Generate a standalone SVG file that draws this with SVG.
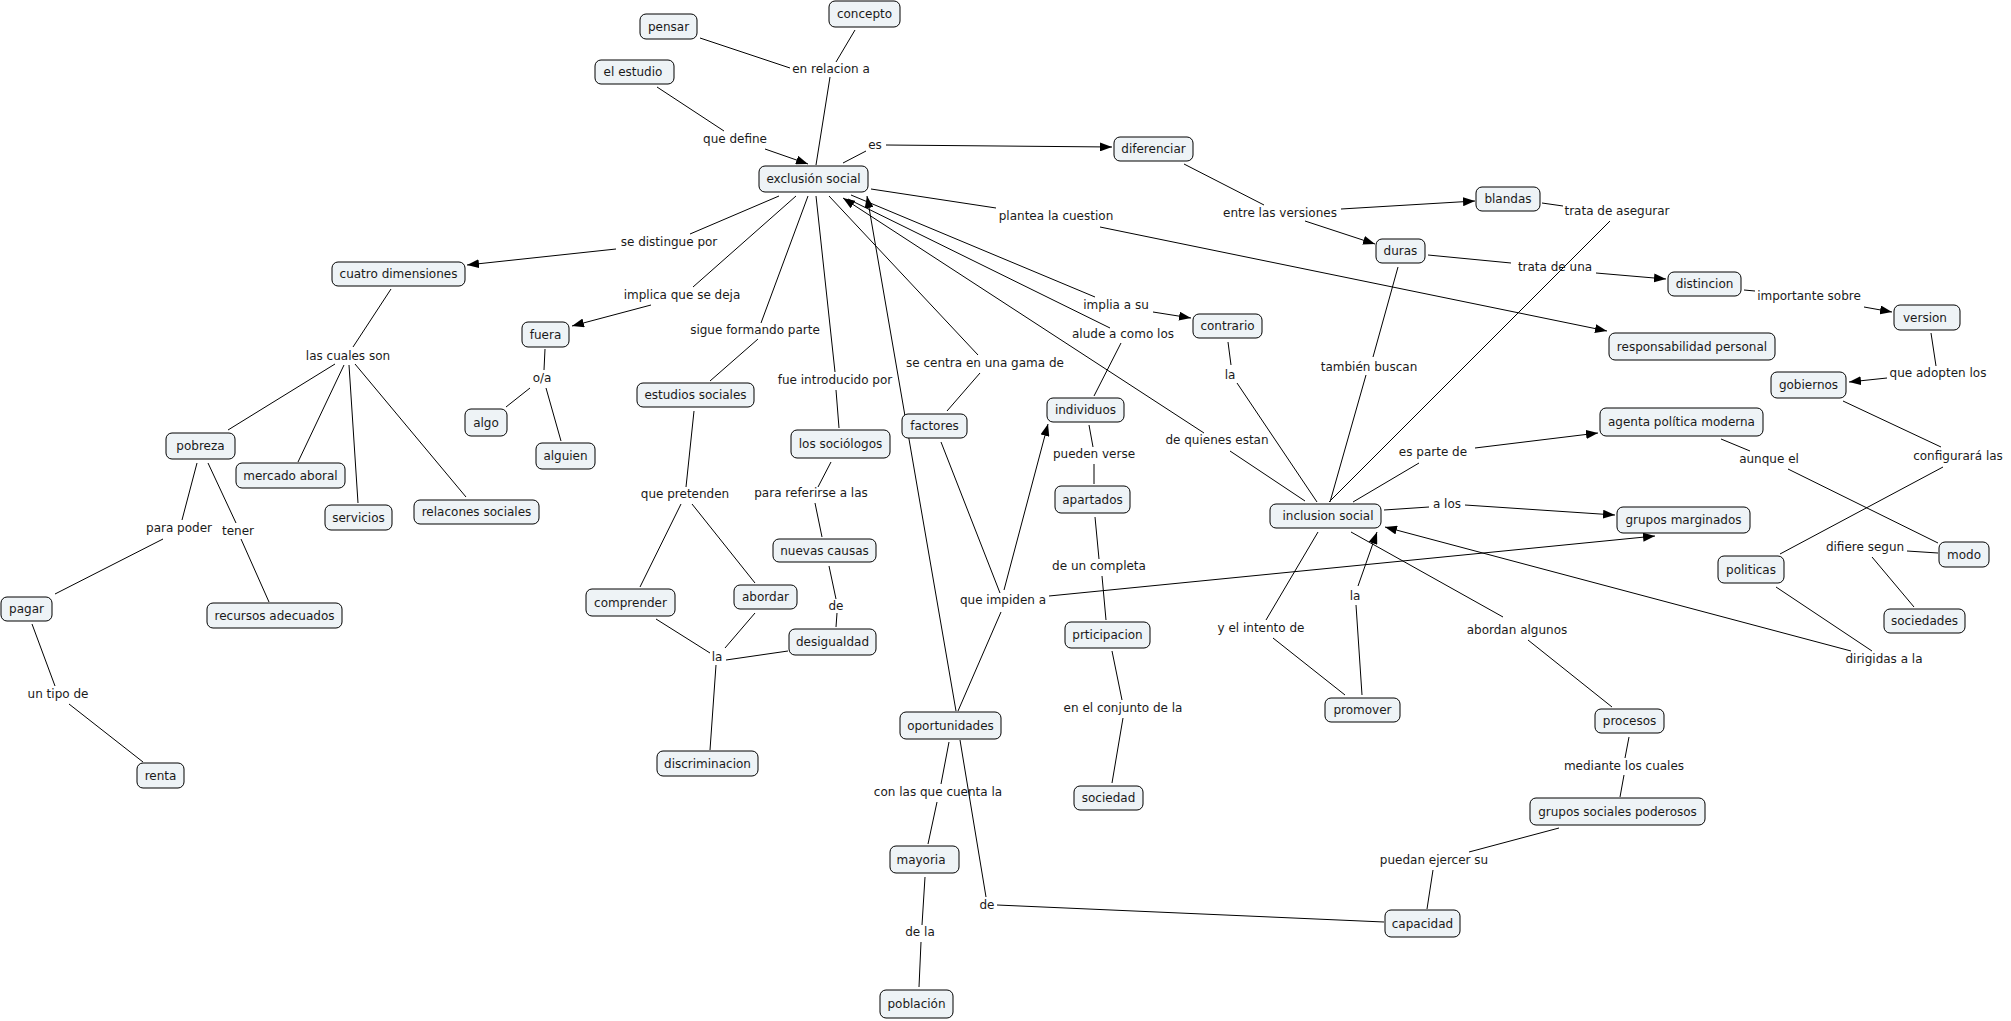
<svg xmlns="http://www.w3.org/2000/svg" width="2011" height="1021" viewBox="0 0 2011 1021">
<style>
.n rect{fill:#eef3f6;stroke:#000;stroke-width:1;}
text{font-family:"DejaVu Sans",Verdana,sans-serif;font-size:12px;fill:#1a1a1a;text-anchor:middle;}
.c line{stroke:#000;stroke-width:1;fill:none;}
.c line.a{marker-end:url(#arr);}
</style>
<defs>
<marker id="arr" markerUnits="userSpaceOnUse" markerWidth="12" markerHeight="9" refX="12" refY="4.5" orient="auto"><path d="M0,0 L12,4.5 L0,9 z" fill="#000"/></marker>
</defs>
<rect width="2011" height="1021" fill="#fff"/>
<g class="c" id="connectors">
<line x1="700" y1="38" x2="790" y2="68"/>
<line x1="855" y1="30" x2="836" y2="62"/>
<line x1="830" y1="77" x2="816" y2="165"/>
<line x1="657" y1="87" x2="724" y2="131"/>
<line class="a" x1="765" y1="149" x2="808" y2="164"/>
<line x1="843" y1="163" x2="866" y2="151"/>
<line class="a" x1="886" y1="145" x2="1112" y2="147"/>
<line x1="1184" y1="164" x2="1264" y2="205"/>
<line class="a" x1="1341" y1="209" x2="1475" y2="201"/>
<line class="a" x1="1305" y1="221" x2="1375" y2="244"/>
<line x1="1542" y1="203" x2="1563" y2="206"/>
<line x1="1610" y1="221" x2="1329" y2="502"/>
<line x1="1428" y1="255" x2="1511" y2="263"/>
<line class="a" x1="1596" y1="273" x2="1666" y2="279"/>
<line x1="1744" y1="290" x2="1755" y2="291"/>
<line class="a" x1="1864" y1="307" x2="1892" y2="312"/>
<line x1="1931" y1="333" x2="1936" y2="366"/>
<line class="a" x1="1887" y1="378" x2="1849" y2="382"/>
<line x1="1843" y1="401" x2="1941" y2="447"/>
<line x1="1943" y1="467" x2="1780" y2="554"/>
<line x1="1721" y1="439" x2="1750" y2="451"/>
<line x1="1788" y1="469" x2="1938" y2="543"/>
<line x1="1938" y1="553" x2="1907" y2="551"/>
<line x1="1872" y1="557" x2="1914" y2="607"/>
<line x1="1776" y1="587" x2="1872" y2="651"/>
<line class="a" x1="1851" y1="651" x2="1385" y2="527"/>
<line x1="871" y1="189" x2="996" y2="208"/>
<line class="a" x1="1100" y1="227" x2="1607" y2="331"/>
<line x1="779" y1="196" x2="690" y2="234"/>
<line class="a" x1="616" y1="249" x2="467" y2="265"/>
<line x1="796" y1="196" x2="693" y2="287"/>
<line class="a" x1="651" y1="305" x2="572" y2="326"/>
<line x1="808" y1="196" x2="761" y2="323"/>
<line x1="758" y1="339" x2="710" y2="381"/>
<line x1="816" y1="196" x2="835" y2="372"/>
<line x1="836" y1="390" x2="839" y2="428"/>
<line x1="831" y1="462" x2="818" y2="487"/>
<line x1="815" y1="503" x2="822" y2="537"/>
<line x1="829" y1="566" x2="836" y2="599"/>
<line x1="837" y1="613" x2="836" y2="627"/>
<line x1="788" y1="651" x2="726" y2="660"/>
<line x1="694" y1="411" x2="686" y2="487"/>
<line x1="681" y1="504" x2="640" y2="587"/>
<line x1="692" y1="504" x2="755" y2="583"/>
<line x1="656" y1="619" x2="710" y2="653"/>
<line x1="755" y1="613" x2="725" y2="648"/>
<line x1="716" y1="665" x2="710" y2="750"/>
<line x1="829" y1="196" x2="978" y2="355"/>
<line x1="980" y1="373" x2="947" y2="411"/>
<line class="a" x1="956" y1="711" x2="867" y2="196"/>
<line x1="941" y1="442" x2="1000" y2="593"/>
<line x1="1001" y1="612" x2="958" y2="711"/>
<line class="a" x1="1004" y1="590" x2="1048" y2="424"/>
<line class="a" x1="1049" y1="596" x2="1655" y2="536"/>
<line x1="851" y1="195" x2="1095" y2="297"/>
<line x1="848" y1="199" x2="1110" y2="328"/>
<line class="a" x1="1204" y1="433" x2="843" y2="198"/>
<line x1="1230" y1="451" x2="1305" y2="501"/>
<line x1="1121" y1="343" x2="1094" y2="396"/>
<line class="a" x1="1153" y1="312" x2="1191" y2="318"/>
<line x1="1228" y1="342" x2="1231" y2="365"/>
<line x1="1237" y1="383" x2="1317" y2="502"/>
<line x1="1398" y1="267" x2="1373" y2="357"/>
<line x1="1366" y1="375" x2="1330" y2="502"/>
<line x1="1353" y1="502" x2="1419" y2="463"/>
<line class="a" x1="1475" y1="448" x2="1598" y2="433"/>
<line x1="1384" y1="510" x2="1429" y2="507"/>
<line class="a" x1="1465" y1="505" x2="1615" y2="515"/>
<line x1="1318" y1="532" x2="1266" y2="620"/>
<line x1="1273" y1="638" x2="1345" y2="695"/>
<line x1="1362" y1="695" x2="1356" y2="605"/>
<line class="a" x1="1358" y1="586" x2="1377" y2="532"/>
<line x1="1351" y1="532" x2="1503" y2="617"/>
<line x1="1528" y1="640" x2="1612" y2="707"/>
<line x1="1629" y1="737" x2="1625" y2="758"/>
<line x1="1624" y1="775" x2="1620" y2="797"/>
<line x1="1559" y1="828" x2="1469" y2="852"/>
<line x1="1433" y1="870" x2="1427" y2="909"/>
<line x1="1384" y1="922" x2="997" y2="905"/>
<line x1="986" y1="897" x2="960" y2="740"/>
<line x1="949" y1="742" x2="941" y2="784"/>
<line x1="937" y1="802" x2="928" y2="844"/>
<line x1="925" y1="877" x2="922" y2="925"/>
<line x1="921" y1="942" x2="919" y2="987"/>
<line x1="1089" y1="425" x2="1093" y2="447"/>
<line x1="1094" y1="464" x2="1094" y2="484"/>
<line x1="1095" y1="517" x2="1099" y2="559"/>
<line x1="1102" y1="576" x2="1106" y2="620"/>
<line x1="1112" y1="651" x2="1122" y2="700"/>
<line x1="1123" y1="718" x2="1112" y2="783"/>
<line x1="391" y1="289" x2="353" y2="347"/>
<line x1="335" y1="364" x2="228" y2="430"/>
<line x1="344" y1="365" x2="298" y2="462"/>
<line x1="349" y1="365" x2="358" y2="503"/>
<line x1="355" y1="364" x2="466" y2="497"/>
<line x1="197" y1="463" x2="182" y2="520"/>
<line x1="163" y1="539" x2="55" y2="594"/>
<line x1="208" y1="463" x2="236" y2="523"/>
<line x1="241" y1="539" x2="269" y2="602"/>
<line x1="32" y1="624" x2="55" y2="686"/>
<line x1="69" y1="704" x2="143" y2="762"/>
<line x1="545" y1="349" x2="544" y2="370"/>
<line x1="530" y1="388" x2="506" y2="407"/>
<line x1="546" y1="388" x2="561" y2="441"/>
</g>
<g id="labels">
<text x="831" y="73">en relacion a</text>
<text x="735" y="143">que define</text>
<text x="875" y="149">es</text>
<text x="669" y="246">se distingue por</text>
<text x="682" y="299">implica que se deja</text>
<text x="755" y="334">sigue formando parte</text>
<text x="1056" y="220">plantea la cuestion</text>
<text x="1280" y="217">entre las versiones</text>
<text x="1116" y="309">implia a su</text>
<text x="1123" y="338">alude a como los</text>
<text x="1617" y="215">trata de asegurar</text>
<text x="1555" y="271">trata de una</text>
<text x="1809" y="300">importante sobre</text>
<text x="348" y="360">las cuales son</text>
<text x="179" y="532">para poder</text>
<text x="238" y="535">tener</text>
<text x="58" y="698">un tipo de</text>
<text x="542" y="382">o/a</text>
<text x="835" y="384">fue introducido por</text>
<text x="985" y="367">se centra en una gama de</text>
<text x="685" y="498">que pretenden</text>
<text x="811" y="497">para referirse a las</text>
<text x="836" y="610">de</text>
<text x="717" y="661">la</text>
<text x="1003" y="604">que impiden a</text>
<text x="1230" y="379">la</text>
<text x="1369" y="371">también buscan</text>
<text x="1217" y="444">de quienes estan</text>
<text x="1094" y="458">pueden verse</text>
<text x="1433" y="456">es parte de</text>
<text x="1447" y="508">a los</text>
<text x="1099" y="570">de un completa</text>
<text x="1355" y="600">la</text>
<text x="1261" y="632">y el intento de</text>
<text x="1517" y="634">abordan algunos</text>
<text x="1938" y="377">que adopten los</text>
<text x="1769" y="463">aunque el</text>
<text x="1958" y="460">configurará las</text>
<text x="1865" y="551">difiere segun</text>
<text x="1884" y="663">dirigidas a la</text>
<text x="938" y="796">con las que cuenta la</text>
<text x="987" y="909">de</text>
<text x="920" y="936">de la</text>
<text x="1123" y="712">en el conjunto de la</text>
<text x="1434" y="864">puedan ejercer su</text>
<text x="1624" y="770">mediante los cuales</text>
</g>
<g class="n" id="n-pensar"><rect x="640" y="14" width="57" height="25" rx="6"/><text x="668.5" y="31">pensar</text></g>
<g class="n" id="n-concepto"><rect x="829" y="1" width="71" height="26" rx="6"/><text x="864.5" y="18">concepto</text></g>
<g class="n" id="n-estudio"><rect x="595" y="60" width="79" height="24" rx="6"/><text x="633" y="76">el estudio</text></g>
<g class="n" id="n-exclusion"><rect x="759" y="166" width="109" height="26" rx="6"/><text x="813.5" y="183">exclusión social</text></g>
<g class="n" id="n-diferenciar"><rect x="1114" y="137" width="79" height="24" rx="6"/><text x="1153.5" y="153">diferenciar</text></g>
<g class="n" id="n-blandas"><rect x="1476" y="187" width="64" height="24" rx="6"/><text x="1508" y="203">blandas</text></g>
<g class="n" id="n-duras"><rect x="1376" y="239" width="49" height="24" rx="6"/><text x="1400.5" y="255">duras</text></g>
<g class="n" id="n-distincion"><rect x="1668" y="272" width="73" height="24" rx="6"/><text x="1704.5" y="288">distincion</text></g>
<g class="n" id="n-version"><rect x="1894" y="305" width="66" height="25" rx="6"/><text x="1925" y="322">version</text></g>
<g class="n" id="n-responsabilidad"><rect x="1609" y="333" width="166" height="27" rx="6"/><text x="1692" y="350.5">responsabilidad personal</text></g>
<g class="n" id="n-contrario"><rect x="1193" y="314" width="69" height="24" rx="6"/><text x="1227.5" y="330">contrario</text></g>
<g class="n" id="n-cuatro"><rect x="332" y="262" width="133" height="24" rx="6"/><text x="398.5" y="278">cuatro dimensiones</text></g>
<g class="n" id="n-fuera"><rect x="522" y="322" width="47" height="25" rx="6"/><text x="545.5" y="339">fuera</text></g>
<g class="n" id="n-gobiernos"><rect x="1771" y="372" width="75" height="26" rx="6"/><text x="1808.5" y="389">gobiernos</text></g>
<g class="n" id="n-agenta"><rect x="1600" y="408" width="163" height="28" rx="6"/><text x="1681.5" y="426">agenta política moderna</text></g>
<g class="n" id="n-individuos"><rect x="1047" y="398" width="77" height="24" rx="6"/><text x="1085.5" y="414">individuos</text></g>
<g class="n" id="n-estudios"><rect x="637" y="383" width="117" height="24" rx="6"/><text x="695.5" y="399">estudios sociales</text></g>
<g class="n" id="n-sociologos"><rect x="791" y="430" width="99" height="28" rx="6"/><text x="840.5" y="448">los sociólogos</text></g>
<g class="n" id="n-factores"><rect x="902" y="414" width="65" height="24" rx="6"/><text x="934.5" y="430">factores</text></g>
<g class="n" id="n-algo"><rect x="465" y="409" width="42" height="27" rx="6"/><text x="486" y="426.5">algo</text></g>
<g class="n" id="n-alguien"><rect x="536" y="443" width="59" height="26" rx="6"/><text x="565.5" y="460">alguien</text></g>
<g class="n" id="n-pobreza"><rect x="166" y="433" width="69" height="26" rx="6"/><text x="200.5" y="450">pobreza</text></g>
<g class="n" id="n-mercado"><rect x="236" y="463" width="109" height="25" rx="6"/><text x="290.5" y="480">mercado aboral</text></g>
<g class="n" id="n-apartados"><rect x="1055" y="486" width="75" height="27" rx="6"/><text x="1092.5" y="503.5">apartados</text></g>
<g class="n" id="n-relacones"><rect x="414" y="500" width="125" height="24" rx="6"/><text x="476.5" y="516">relacones sociales</text></g>
<g class="n" id="n-servicios"><rect x="325" y="505" width="67" height="25" rx="6"/><text x="358.5" y="522">servicios</text></g>
<g class="n" id="n-inclusion"><rect x="1270" y="504" width="111" height="24" rx="6"/><text x="1328" y="520">inclusion social</text></g>
<g class="n" id="n-grupos"><rect x="1617" y="507" width="133" height="26" rx="6"/><text x="1683.5" y="524">grupos marginados</text></g>
<g class="n" id="n-nuevas"><rect x="773" y="539" width="103" height="23" rx="6"/><text x="824.5" y="554.5">nuevas causas</text></g>
<g class="n" id="n-modo"><rect x="1939" y="542" width="50" height="25" rx="6"/><text x="1964" y="559">modo</text></g>
<g class="n" id="n-politicas"><rect x="1718" y="556" width="66" height="27" rx="6"/><text x="1751" y="573.5">politicas</text></g>
<g class="n" id="n-abordar"><rect x="734" y="585" width="63" height="24" rx="6"/><text x="765.5" y="601">abordar</text></g>
<g class="n" id="n-comprender"><rect x="586" y="589" width="89" height="27" rx="6"/><text x="630.5" y="606.5">comprender</text></g>
<g class="n" id="n-pagar"><rect x="1" y="597" width="51" height="24" rx="6"/><text x="26.5" y="613">pagar</text></g>
<g class="n" id="n-recursos"><rect x="207" y="603" width="135" height="25" rx="6"/><text x="274.5" y="620">recursos adecuados</text></g>
<g class="n" id="n-sociedades"><rect x="1884" y="609" width="81" height="24" rx="6"/><text x="1924.5" y="625">sociedades</text></g>
<g class="n" id="n-prticipacion"><rect x="1065" y="622" width="85" height="26" rx="6"/><text x="1107.5" y="639">prticipacion</text></g>
<g class="n" id="n-desigualdad"><rect x="789" y="629" width="87" height="26" rx="6"/><text x="832.5" y="646">desigualdad</text></g>
<g class="n" id="n-promover"><rect x="1325" y="698" width="75" height="24" rx="6"/><text x="1362.5" y="714">promover</text></g>
<g class="n" id="n-procesos"><rect x="1595" y="709" width="69" height="24" rx="6"/><text x="1629.5" y="725">procesos</text></g>
<g class="n" id="n-oportunidades"><rect x="900" y="712" width="101" height="27" rx="6"/><text x="950.5" y="729.5">oportunidades</text></g>
<g class="n" id="n-discriminacion"><rect x="657" y="751" width="101" height="25" rx="6"/><text x="707.5" y="768">discriminacion</text></g>
<g class="n" id="n-renta"><rect x="137" y="763" width="47" height="25" rx="6"/><text x="160.5" y="780">renta</text></g>
<g class="n" id="n-sociedad"><rect x="1074" y="786" width="69" height="24" rx="6"/><text x="1108.5" y="802">sociedad</text></g>
<g class="n" id="n-poderosos"><rect x="1530" y="798" width="175" height="27" rx="6"/><text x="1617.5" y="815.5">grupos sociales poderosos</text></g>
<g class="n" id="n-mayoria"><rect x="890" y="846" width="69" height="27" rx="6"/><text x="921" y="863.5">mayoria</text></g>
<g class="n" id="n-capacidad"><rect x="1385" y="910" width="75" height="27" rx="6"/><text x="1422.5" y="927.5">capacidad</text></g>
<g class="n" id="n-poblacion"><rect x="880" y="990" width="73" height="28" rx="6"/><text x="916.5" y="1008">población</text></g>
</svg>
